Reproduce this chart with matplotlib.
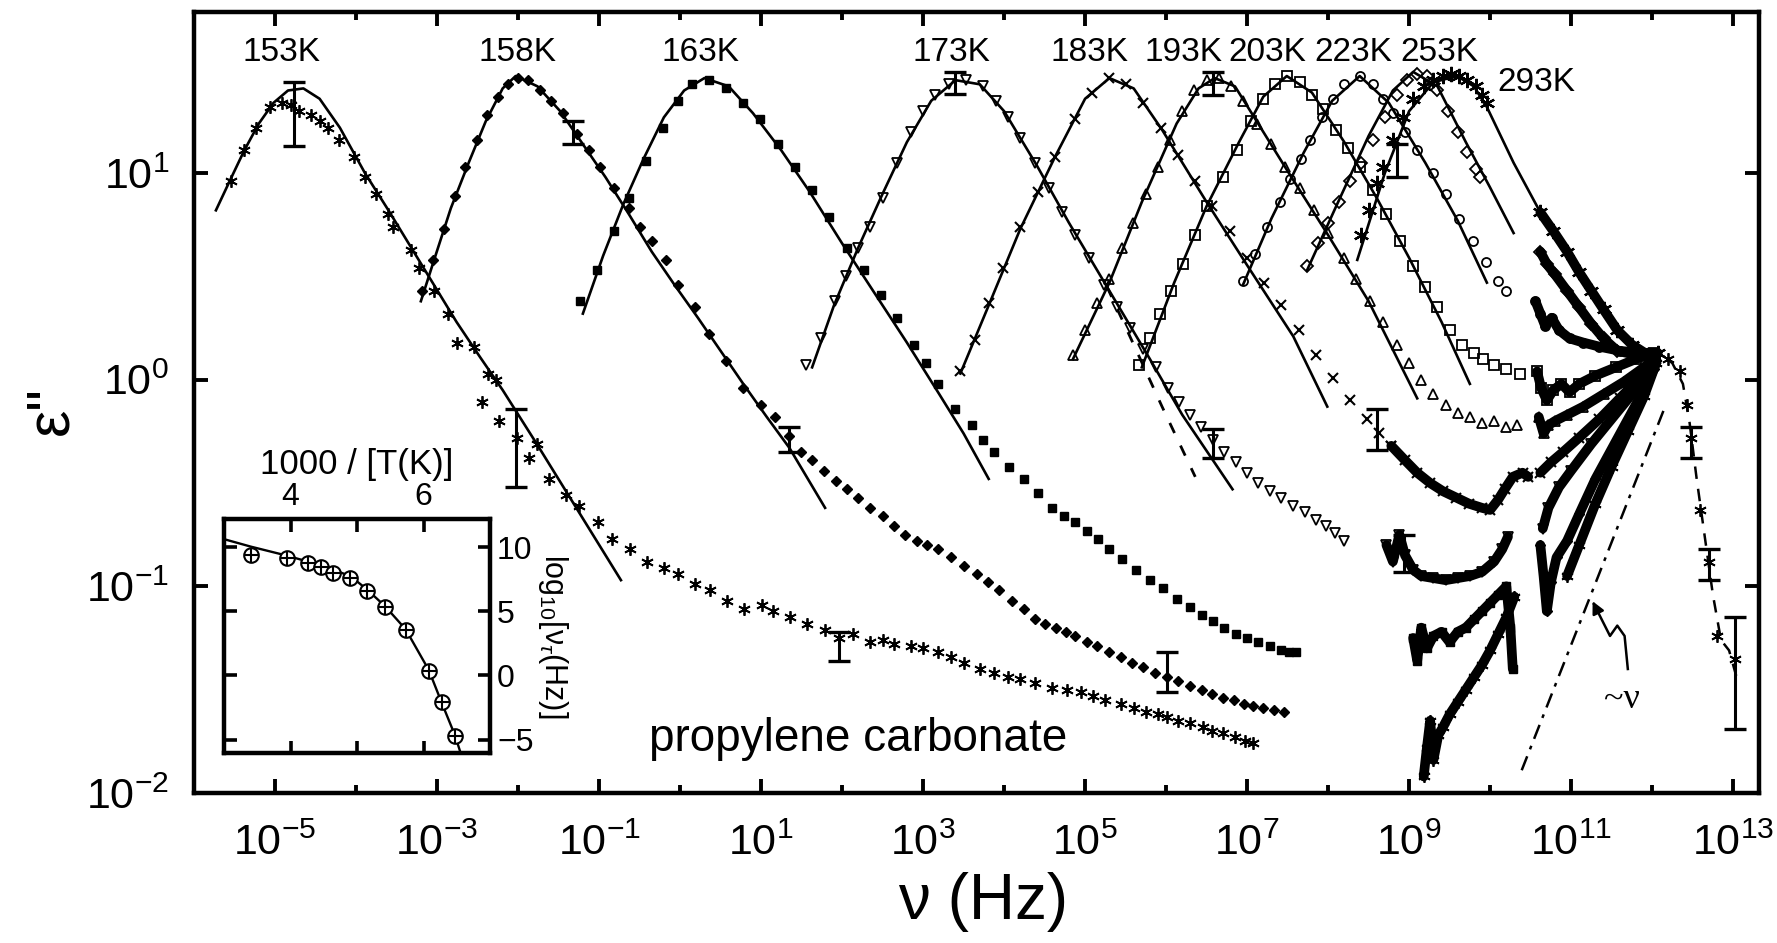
import numpy as np
import matplotlib
matplotlib.use('Agg')
import matplotlib.pyplot as plt
from matplotlib.ticker import FixedLocator, NullLocator, NullFormatter, FuncFormatter

plt.rcParams['font.family'] = ['Liberation Sans', 'DejaVu Sans']
plt.rcParams['mathtext.fontset'] = 'custom'
plt.rcParams['mathtext.rm'] = 'Liberation Sans'
plt.rcParams['mathtext.it'] = 'Liberation Sans:italic'

# all values are (log10 nu [Hz], log10 eps'')
fit153 = [(-5.73, 0.82), (-5.55, 0.97), (-5.38, 1.11), (-5.20, 1.24), (-5.02, 1.34), (-4.84, 1.40), (-4.65, 1.41),
          (-4.45, 1.36), (-4.20, 1.22), (-3.89, 1.00), (-3.60, 0.82), (-3.32, 0.64), (-3.04, 0.46), (-2.76, 0.28),
          (-2.47, 0.11), (-2.19, -0.05), (-1.77, -0.31), (-1.25, -0.64), (-0.73, -0.97)]
d153 = [(-5.55, 0.96), (-5.38, 1.11), (-5.23, 1.22), (-5.06, 1.32), (-4.92, 1.34), (-4.80, 1.33), (-4.70, 1.30),
        (-4.56, 1.28), (-4.45, 1.25), (-4.35, 1.22), (-4.21, 1.16), (-4.03, 1.08), (-3.89, 0.98), (-3.75, 0.90),
        (-3.61, 0.80), (-3.54, 0.74), (-3.32, 0.63), (-3.22, 0.54), (-3.04, 0.43), (-2.86, 0.32), (-2.76, 0.18),
        (-2.54, 0.16), (-2.37, 0.03), (-2.27, 0.00), (-2.44, -0.11), (-2.23, -0.20), (-2.01, -0.28), (-1.87, -0.38),
        (-1.77, -0.31), (-1.62, -0.48), (-1.41, -0.56), (-1.25, -0.61), (-1.01, -0.69), (-0.84, -0.77), (-0.62, -0.82),
        (-0.41, -0.88), (-0.20, -0.91), (-0.02, -0.94), (0.19, -0.99), (0.37, -1.02), (0.58, -1.07), (0.79, -1.11),
        (1.01, -1.09), (1.15, -1.12), (1.36, -1.15), (1.57, -1.18), (1.79, -1.21), (1.96, -1.25), (2.14, -1.23),
        (2.35, -1.27), (2.50, -1.26), (2.64, -1.28), (2.85, -1.29), (3.00, -1.30), (3.18, -1.32), (3.35, -1.34),
        (3.50, -1.37), (3.70, -1.40), (3.88, -1.42), (4.05, -1.44), (4.20, -1.45), (4.38, -1.47), (4.59, -1.49),
        (4.78, -1.50), (4.95, -1.51), (5.10, -1.53), (5.25, -1.55), (5.44, -1.57), (5.60, -1.59), (5.75, -1.61),
        (5.90, -1.62), (6.01, -1.63), (6.15, -1.65), (6.30, -1.66), (6.45, -1.68), (6.57, -1.70), (6.70, -1.71),
        (6.85, -1.73), (6.97, -1.75), (7.07, -1.76)]

fit158 = [(-3.20, 0.38), (-3.02, 0.60), (-2.83, 0.83), (-2.61, 1.05), (-2.40, 1.25), (-2.19, 1.41),
          (-2.03, 1.47), (-1.76, 1.42), (-1.48, 1.30), (-1.20, 1.14), (-0.92, 0.98), (-0.63, 0.80), (-0.35, 0.62),
          (-0.07, 0.46), (0.22, 0.30), (0.50, 0.14), (0.78, -0.02), (1.07, -0.18), (1.35, -0.33), (1.79, -0.62)]
d158 = [(-3.18, 0.43), (-3.05, 0.58), (-2.92, 0.73), (-2.78, 0.89), (-2.65, 1.03), (-2.51, 1.16), (-2.38, 1.28),
        (-2.25, 1.37), (-2.12, 1.43), (-2.00, 1.46), (-1.88, 1.45), (-1.73, 1.40), (-1.59, 1.35), (-1.45, 1.29),
        (-1.27, 1.19), (-1.13, 1.11), (-0.99, 1.03), (-0.81, 0.93), (-0.63, 0.83), (-0.49, 0.74), (-0.35, 0.67),
        (-0.17, 0.58), (-0.03, 0.46), (0.18, 0.35), (0.36, 0.22), (0.57, 0.09), (0.78, -0.04), (1.00, -0.12),
        (1.17, -0.18), (1.35, -0.27), (1.49, -0.35), (1.63, -0.39), (1.78, -0.44), (1.92, -0.49), (2.06, -0.53),
        (2.20, -0.57), (2.35, -0.62), (2.50, -0.66), (2.64, -0.71), (2.78, -0.75), (2.92, -0.78), (3.05, -0.80),
        (3.18, -0.82), (3.34, -0.86), (3.50, -0.90), (3.66, -0.94), (3.80, -0.98), (3.94, -1.02), (4.10, -1.07),
        (4.24, -1.11), (4.38, -1.16), (4.50, -1.18), (4.64, -1.20), (4.76, -1.22), (4.88, -1.24), (5.02, -1.27),
        (5.15, -1.29), (5.30, -1.32), (5.44, -1.34), (5.58, -1.37), (5.72, -1.39), (5.86, -1.42), (6.01, -1.44),
        (6.15, -1.46), (6.30, -1.48), (6.44, -1.50), (6.57, -1.52), (6.70, -1.54), (6.84, -1.55), (6.96, -1.57),
        (7.07, -1.58), (7.20, -1.59), (7.33, -1.60), (7.46, -1.61)]

fit163 = [(-1.20, 0.32), (-0.95, 0.60), (-0.70, 0.85), (-0.45, 1.07), (-0.20, 1.27), (0.05, 1.40), (0.30, 1.46),
          (0.60, 1.42), (0.90, 1.29), (1.25, 1.11), (1.60, 0.91), (2.00, 0.66), (2.40, 0.42), (2.80, 0.18),
          (3.20, -0.07), (3.50, -0.26), (3.81, -0.48)]
d163 = [(-1.24, 0.38), (-1.02, 0.53), (-0.81, 0.72), (-0.63, 0.88), (-0.42, 1.06), (-0.21, 1.22), (-0.03, 1.35),
        (0.15, 1.43), (0.36, 1.45), (0.57, 1.41), (0.78, 1.34), (0.99, 1.26), (1.21, 1.14), (1.42, 1.03),
        (1.63, 0.92), (1.84, 0.79), (2.06, 0.64), (2.27, 0.53), (2.48, 0.41), (2.68, 0.30), (2.89, 0.17),
        (3.03, 0.08), (3.18, -0.02), (3.39, -0.14), (3.60, -0.22), (3.74, -0.29), (3.88, -0.35), (4.06, -0.42),
        (4.24, -0.48), (4.42, -0.55), (4.59, -0.62), (4.74, -0.66), (4.88, -0.69), (5.02, -0.73), (5.16, -0.77),
        (5.30, -0.82), (5.46, -0.87), (5.63, -0.92), (5.80, -0.97), (5.96, -1.01), (6.13, -1.06), (6.29, -1.10),
        (6.44, -1.14), (6.58, -1.17), (6.72, -1.20), (6.86, -1.23), (7.00, -1.25), (7.14, -1.27), (7.28, -1.29),
        (7.42, -1.31), (7.52, -1.32), (7.60, -1.32)]

fit173 = [(1.63, 0.06), (1.90, 0.36), (2.20, 0.64), (2.50, 0.90), (2.80, 1.15), (3.10, 1.35), (3.40, 1.45),
          (3.70, 1.43), (4.00, 1.30), (4.40, 1.04), (4.80, 0.76), (5.27, 0.45), (5.80, 0.10), (6.20, -0.17),
          (6.82, -0.53)]
dash173 = [(5.27, 0.45), (5.60, 0.17), (5.95, -0.13), (6.36, -0.47)]
d173 = [(1.56, 0.07), (1.74, 0.20), (1.91, 0.38), (2.05, 0.50), (2.20, 0.64), (2.34, 0.74), (2.50, 0.88),
        (2.68, 1.05), (2.85, 1.20), (3.00, 1.30), (3.15, 1.38), (3.32, 1.43), (3.53, 1.45), (3.74, 1.42),
        (3.90, 1.35), (4.05, 1.27), (4.20, 1.17), (4.38, 1.05), (4.55, 0.93), (4.72, 0.81), (4.88, 0.70),
        (5.05, 0.59), (5.23, 0.46), (5.40, 0.35), (5.56, 0.25), (5.72, 0.15), (5.87, 0.06), (6.02, -0.04),
        (6.16, -0.11), (6.29, -0.17), (6.43, -0.23), (6.58, -0.29), (6.72, -0.35), (6.86, -0.40), (7.00, -0.45),
        (7.14, -0.50), (7.28, -0.54), (7.42, -0.57), (7.57, -0.61), (7.71, -0.64), (7.85, -0.68), (7.97, -0.71),
        (8.08, -0.74), (8.20, -0.78)]

fit183 = [(3.46, 0.03), (3.81, 0.36), (4.20, 0.73), (4.63, 1.08), (5.00, 1.36), (5.30, 1.46), (5.60, 1.41),
          (5.95, 1.21), (6.50, 0.86), (7.04, 0.53), (7.57, 0.21), (7.99, -0.13)]
d183 = [(3.46, 0.04), (3.64, 0.19), (3.81, 0.37), (3.99, 0.54), (4.20, 0.74), (4.42, 0.91), (4.63, 1.08),
        (4.88, 1.26), (5.09, 1.39), (5.30, 1.46), (5.51, 1.43), (5.72, 1.34), (5.94, 1.22), (6.15, 1.09),
        (6.36, 0.96), (6.57, 0.84), (6.79, 0.72), (7.00, 0.59), (7.21, 0.47), (7.42, 0.36), (7.64, 0.24),
        (7.85, 0.12), (8.06, 0.01), (8.27, -0.10), (8.48, -0.19), (8.63, -0.26), (8.78, -0.32)]

fit193 = [(4.85, 0.10), (5.30, 0.47), (5.70, 0.86), (6.13, 1.24), (6.40, 1.41), (6.60, 1.46), (6.85, 1.42),
          (7.12, 1.25), (7.50, 1.01), (8.00, 0.70), (8.50, 0.38), (9.10, -0.09)]
d193 = [(4.85, 0.12), (5.00, 0.24), (5.15, 0.37), (5.30, 0.49), (5.45, 0.64), (5.59, 0.76), (5.75, 0.90),
        (5.90, 1.03), (6.05, 1.16), (6.20, 1.30), (6.35, 1.40), (6.50, 1.45), (6.65, 1.46), (6.80, 1.42),
        (6.95, 1.35), (7.12, 1.24), (7.30, 1.14), (7.47, 1.03), (7.65, 0.93), (7.82, 0.82), (8.00, 0.71),
        (8.19, 0.59), (8.35, 0.49), (8.52, 0.38), (8.68, 0.28), (8.85, 0.17), (9.00, 0.08), (9.15, 0.00),
        (9.30, -0.07), (9.45, -0.12), (9.60, -0.16), (9.75, -0.18), (9.90, -0.21), (10.05, -0.20), (10.20, -0.23),
        (10.33, -0.22)]

fit203 = [(5.70, 0.06), (6.10, 0.47), (6.50, 0.84), (6.90, 1.15), (7.20, 1.37), (7.49, 1.47), (7.80, 1.39),
          (8.20, 1.15), (8.60, 0.88), (9.00, 0.59), (9.40, 0.28), (9.75, -0.02)]
d203 = [(5.66, 0.07), (5.80, 0.20), (5.92, 0.32), (6.06, 0.43), (6.21, 0.56), (6.36, 0.70), (6.51, 0.84),
        (6.70, 0.98), (6.88, 1.11), (7.05, 1.25), (7.20, 1.36), (7.35, 1.43), (7.49, 1.47), (7.65, 1.44),
        (7.80, 1.38), (7.94, 1.31), (8.10, 1.21), (8.25, 1.12), (8.39, 1.03), (8.55, 0.92), (8.72, 0.80),
        (8.89, 0.67), (9.05, 0.55), (9.20, 0.45), (9.35, 0.35), (9.51, 0.24), (9.65, 0.17), (9.80, 0.13),
        (9.91, 0.10), (10.05, 0.07), (10.20, 0.05), (10.37, 0.03)]

fit223 = [(6.95, 0.46), (7.30, 0.78), (7.70, 1.10), (8.05, 1.35), (8.39, 1.47), (8.75, 1.34), (9.20, 1.05),
          (9.60, 0.77), (9.96, 0.47)]
d223 = [(6.95, 0.48), (7.10, 0.61), (7.25, 0.74), (7.40, 0.86), (7.53, 0.97), (7.66, 1.07), (7.78, 1.16),
        (7.92, 1.27), (8.06, 1.36), (8.20, 1.43), (8.39, 1.47), (8.55, 1.43), (8.68, 1.36), (8.80, 1.29),
        (8.95, 1.20), (9.10, 1.11), (9.30, 1.00), (9.45, 0.90), (9.62, 0.78), (9.79, 0.67), (9.95, 0.57),
        (10.10, 0.48), (10.20, 0.43)]

fit253 = [(7.74, 0.53), (8.10, 0.84), (8.50, 1.18), (8.80, 1.40), (9.05, 1.49), (9.35, 1.42), (9.70, 1.15),
          (10.00, 0.93), (10.29, 0.71)]
d253 = [(7.74, 0.55), (7.87, 0.66), (8.00, 0.76), (8.13, 0.86), (8.27, 0.96), (8.40, 1.05), (8.55, 1.16),
        (8.70, 1.27), (8.85, 1.38), (8.97, 1.45), (9.10, 1.48), (9.22, 1.47), (9.35, 1.40), (9.48, 1.30),
        (9.60, 1.20), (9.72, 1.10), (9.82, 1.02), (9.88, 0.98)]

fit293 = [(8.36, 0.58), (8.70, 1.00), (9.00, 1.30), (9.30, 1.44), (9.59, 1.47), (9.80, 1.42), (9.96, 1.32),
          (10.29, 1.05), (10.62, 0.81)]
d293 = [(8.40, 0.70), (8.50, 0.82), (8.60, 0.95), (8.68, 1.03), (8.80, 1.16), (8.92, 1.27), (9.05, 1.36),
        (9.18, 1.42), (9.30, 1.45), (9.42, 1.47), (9.52, 1.48), (9.62, 1.47), (9.72, 1.45), (9.82, 1.42),
        (9.90, 1.38), (9.96, 1.34)]

# GHz - THz data (dense, drawn as heavy bands)
hi153 = [(9.18, -1.92), (9.22, -1.78), (9.26, -1.65), (9.30, -1.84), (9.36, -1.72), (9.42, -1.68), (9.50, -1.62),
         (9.60, -1.56), (9.70, -1.50), (9.80, -1.44), (9.90, -1.38), (10.00, -1.31), (10.10, -1.23),
         (10.20, -1.15), (10.30, -1.05)]
hi153b = [(10.95, -0.95), (11.10, -0.80), (11.30, -0.60), (11.50, -0.42), (11.70, -0.25), (11.90, -0.08),
          (12.05, 0.08)]
hi158 = [(10.62, -0.80), (10.66, -0.95), (10.70, -1.12), (10.75, -0.98), (10.82, -0.86), (10.95, -0.78),
         (11.10, -0.65), (11.30, -0.48), (11.55, -0.30), (11.80, -0.12), (12.02, 0.05)]
hi163 = [(9.05, -1.25), (9.10, -1.36), (9.15, -1.20), (9.22, -1.30), (9.30, -1.24), (9.40, -1.22), (9.50, -1.27),
         (9.60, -1.22), (9.70, -1.20), (9.80, -1.16), (9.90, -1.12), (10.00, -1.08), (10.10, -1.04),
         (10.20, -1.00), (10.25, -1.20), (10.28, -1.40)]
hi173 = [(8.72, -0.80), (8.80, -0.88), (8.88, -0.75), (8.95, -0.85), (9.05, -0.92), (9.15, -0.95), (9.30, -0.96),
         (9.45, -0.97), (9.60, -0.96), (9.75, -0.95), (9.90, -0.93), (10.05, -0.88), (10.15, -0.82),
         (10.22, -0.76)]
hi173b = [(10.65, -0.72), (10.72, -0.62), (10.85, -0.52), (11.00, -0.44), (11.25, -0.31), (11.50, -0.19),
          (11.75, -0.07), (12.00, 0.05)]
hi183 = [(8.78, -0.32), (8.95, -0.39), (9.10, -0.45), (9.26, -0.50), (9.42, -0.54), (9.58, -0.57), (9.74, -0.60),
         (9.90, -0.62), (10.00, -0.63), (10.10, -0.58), (10.18, -0.53), (10.28, -0.47), (10.40, -0.45),
         (10.47, -0.47)]
hi183b = [(10.62, -0.45), (10.75, -0.40), (10.90, -0.35), (11.10, -0.28), (11.35, -0.19), (11.60, -0.09),
          (11.85, 0.01), (12.05, 0.10)]
hi193 = [(10.60, -0.18), (10.66, -0.26), (10.72, -0.22), (10.80, -0.20), (10.95, -0.17), (11.15, -0.13),
         (11.40, -0.07), (11.65, -0.01), (11.90, 0.06), (12.05, 0.11)]
hi203 = [(10.58, 0.04), (10.63, -0.04), (10.70, -0.10), (10.78, -0.05), (10.88, -0.02), (10.98, -0.06),
         (11.10, -0.02), (11.30, 0.02), (11.55, 0.06), (11.80, 0.10), (12.02, 0.13)]
hi223 = [(10.56, 0.38), (10.62, 0.32), (10.68, 0.26), (10.76, 0.30), (10.85, 0.24), (10.98, 0.20), (11.15, 0.18),
         (11.35, 0.16), (11.60, 0.14), (11.85, 0.13), (12.05, 0.13)]
hi253 = [(10.62, 0.62), (10.70, 0.56), (10.80, 0.51), (10.95, 0.43), (11.10, 0.35), (11.25, 0.27), (11.40, 0.20),
         (11.57, 0.14), (11.80, 0.12), (12.02, 0.12)]
hi293 = [(10.62, 0.81), (10.78, 0.72), (10.95, 0.62), (11.10, 0.52), (11.25, 0.43), (11.40, 0.34), (11.57, 0.24),
         (11.75, 0.17), (11.95, 0.12), (12.07, 0.13)]

far_ir = [(12.07, 0.13), (12.20, 0.10), (12.34, 0.04), (12.43, -0.12), (12.48, -0.28), (12.59, -0.63),
          (12.70, -0.88), (12.80, -1.24), (13.02, -1.35)]
far_ir_line = [(11.95, 0.14), (12.10, 0.13), (12.25, 0.08), (12.38, -0.02), (12.46, -0.20), (12.55, -0.48),
               (12.65, -0.76), (12.75, -1.04), (12.85, -1.26), (12.95, -1.31), (13.05, -1.45)]
linear_nu = [(10.39, -1.89), (12.16, -0.13)]
squiggle = [(11.70, -1.40), (11.66, -1.24), (11.57, -1.19), (11.48, -1.24), (11.39, -1.17), (11.30, -1.10)]
arrow_tip = (11.25, -1.06)

# error bars: log10 nu, log10 low, log10 high
eb_lx = [-4.77, -1.32, -2.03, 1.35, 1.96, 3.39, 6.01, 6.58, 6.58, 8.60, 8.85, 8.94, 12.48, 12.70, 13.02]
eb_lo = [1.13, 1.14, -0.52, -0.35, -1.36, 1.385, -1.51, -0.38, 1.38, -0.34, 0.98, -0.93, -0.38, -0.97, -1.69]
eb_hi = [1.44, 1.25, -0.14, -0.23, -1.22, 1.49, -1.32, -0.24, 1.49, -0.14, 1.14, -0.75, -0.23, -0.82, -1.15]

temp_labels = ['153K', '158K', '163K', '173K', '183K', '193K', '203K', '223K', '253K']
temp_label_lx = [-4.92, -2.01, 0.25, 3.35, 5.05, 6.22, 7.25, 8.31, 9.37]

# inset: log10 nu_tau vs 1000/T
inset_x = [3.40, 3.94, 4.26, 4.45, 4.64, 4.90, 5.15, 5.42, 5.73, 6.08, 6.27, 6.47]
inset_y = [9.43, 9.17, 8.78, 8.47, 8.01, 7.62, 6.59, 5.37, 3.54, 0.33, -2.07, -4.73]
inset_fit_x = [3.02, 3.40, 3.94, 4.45, 4.90, 5.15, 5.42, 5.73, 6.08, 6.27, 6.47, 6.56]
inset_fit_y = [10.6, 10.05, 9.35, 8.6, 7.75, 6.7, 5.4, 3.6, 0.4, -2.1, -4.65, -6.1]


def xy(pairs):
    a = np.array(pairs, dtype=float)
    return 10 ** a[:, 0], 10 ** a[:, 1]


ast = (6, 2, 0)
styles = {
    '153': dict(marker=ast, ms=9, mew=1.3, mfc='k'),
    '158': dict(marker='D', ms=5.5, mew=1.0, mfc='k'),
    '163': dict(marker='s', ms=6, mew=1.0, mfc='k'),
    '173': dict(marker='v', ms=7, mew=1.3, mfc='none'),
    '183': dict(marker='x', ms=7, mew=1.5, mfc='none'),
    '193': dict(marker='^', ms=7, mew=1.3, mfc='none'),
    '203': dict(marker='s', ms=6.5, mew=1.3, mfc='none'),
    '223': dict(marker='o', ms=6.5, mew=1.3, mfc='none'),
    '253': dict(marker='D', ms=6, mew=1.3, mfc='none'),
    '293': dict(marker=ast, ms=11, mew=1.6, mfc='k'),
}
curves = [('153', fit153, d153), ('158', fit158, d158), ('163', fit163, d163), ('173', fit173, d173),
          ('183', fit183, d183), ('193', fit193, d193), ('203', fit203, d203), ('223', fit223, d223),
          ('253', fit253, d253), ('293', fit293, d293)]
bands = [('153', hi153), ('153', hi153b), ('158', hi158), ('163', hi163), ('173', hi173), ('173', hi173b),
         ('183', hi183), ('183', hi183b), ('193', hi193), ('203', hi203), ('223', hi223), ('253', hi253),
         ('293', hi293)]

fig = plt.figure(figsize=(17.77, 9.43), dpi=100)
ax = fig.add_axes([0.1092, 0.1591, 0.8807, 0.8282])

for key, fit, dat in curves:
    fx, fy = xy(fit)
    ax.plot(fx, fy, '-', color='k', lw=1.9, zorder=3)
    dx, dy = xy(dat)
    ax.plot(dx, dy, ls='none', color='k', mec='k', zorder=4, **styles[key])

fx, fy = xy(dash173)
ax.plot(fx, fy, color='k', lw=2.0, ls=(0, (4, 5)), zorder=3)

for key, band in bands:
    bx, by = xy(band)
    ax.plot(bx, by, '-', color='k', lw=7, solid_capstyle='round', zorder=4)
    ax.plot(bx, by, ls='none', color='k', mec='k', zorder=5, **styles[key])

fx, fy = xy(far_ir_line)
ax.plot(fx, fy, color='k', lw=1.8, ls=(0, (5, 4)), zorder=3)
fx, fy = xy(far_ir)
ax.plot(fx, fy, ls='none', color='k', zorder=4, **styles['153'])

fx, fy = xy(linear_nu)
ax.plot(fx, fy, color='k', lw=1.8, ls=(0, (6, 3, 1.5, 3)), zorder=3)
sx, sy = xy(squiggle)
ax.plot(sx, sy, color='k', lw=1.8, zorder=3)
ax.annotate('', xy=(10 ** arrow_tip[0], 10 ** arrow_tip[1]), xytext=(sx[-1], sy[-1]),
            arrowprops=dict(arrowstyle='-|>', color='k', lw=1.8, mutation_scale=18))
ax.text(10 ** 11.63, 10 ** -1.55, '~ν', family=['Liberation Serif', 'DejaVu Serif'], fontsize=26,
        ha='center', va='center')

eb_x = 10 ** np.array(eb_lx)
lo = 10 ** np.array(eb_lo)
hi = 10 ** np.array(eb_hi)
mid = np.sqrt(lo * hi)
ax.errorbar(eb_x, mid, yerr=[mid - lo, hi - mid], fmt='none', ecolor='k', elinewidth=2.2,
            capsize=8, capthick=2.4, zorder=6)

for lab, lx in zip(temp_labels, temp_label_lx):
    ax.text(10 ** lx, 10 ** 1.585, lab, fontsize=24, ha='center', va='center')
ax.text(10 ** 10.09, 10 ** 1.44, '293K', fontsize=24, ha='left', va='center')
ax.text(10 ** -0.38, 10 ** -1.74, 'propylene carbonate', fontsize=33, ha='left', va='center')

ax.set_xscale('log')
ax.set_yscale('log')
ax.set_xlim(10 ** -6.0, 10 ** 13.32)
ax.set_ylim(1e-2, 10 ** 1.78)

sci = FuncFormatter(lambda v, p: r'$\mathregular{10^{%d}}$' % round(np.log10(v)))
ax.xaxis.set_major_locator(FixedLocator(10.0 ** np.arange(-5, 14, 2)))
ax.xaxis.set_minor_locator(FixedLocator(10.0 ** np.arange(-6, 14, 2)))
ax.xaxis.set_major_formatter(sci)
ax.xaxis.set_minor_formatter(NullFormatter())
ax.yaxis.set_major_locator(FixedLocator([1e-2, 1e-1, 1e0, 1e1]))
ax.yaxis.set_minor_locator(NullLocator())
ax.yaxis.set_major_formatter(sci)
ax.tick_params(which='both', direction='in', top=True, right=True, width=2.8)
ax.tick_params(which='major', length=10, labelsize=31)
ax.tick_params(which='minor', length=6)
ax.tick_params(axis='x', pad=22)
ax.tick_params(axis='y', pad=18)
for sp in ax.spines.values():
    sp.set_linewidth(3.2)

fig.text(0.553, 0.012, 'ν (Hz)', fontsize=46, ha='center', va='bottom')
fig.text(0.029, 0.565, 'ε"', fontsize=44, ha='center', va='center', rotation=90)

# inset
axi = fig.add_axes([0.1261, 0.2015, 0.1497, 0.2481])
axi.plot(inset_fit_x, inset_fit_y, color='k', lw=1.7)
axi.plot(inset_x, inset_y, ls='none', marker='o', ms=10.5, mfc='white', mec='k', mew=1.5)
axi.plot(inset_x, inset_y, ls='none', marker='+', ms=10.5, color='k', mew=1.5)
axi.set_xlim(3, 7)
axi.set_ylim(-6.05, 12.2)
axi.xaxis.set_major_locator(FixedLocator([4, 6]))
axi.xaxis.set_minor_locator(FixedLocator([5]))
axi.yaxis.set_major_locator(FixedLocator([-5, 0, 5, 10]))
axi.tick_params(which='both', direction='in', top=True, bottom=True, left=True, right=True,
                labeltop=True, labelbottom=False, labelleft=False, labelright=True,
                width=2.6, labelsize=23, pad=5)
axi.tick_params(which='major', length=9)
axi.tick_params(which='minor', length=9)
axi.xaxis.set_label_position('top')
axi.set_xlabel('1000 / [T(K)]', fontsize=25, labelpad=6)
axi.yaxis.set_label_position('right')
axi.set_ylabel(r'log$_{10}$[ν$_{\tau}$(Hz)]', fontsize=22, rotation=270, labelpad=26)
for sp in axi.spines.values():
    sp.set_linewidth(3.2)

fig.savefig('out.png', dpi=100)
